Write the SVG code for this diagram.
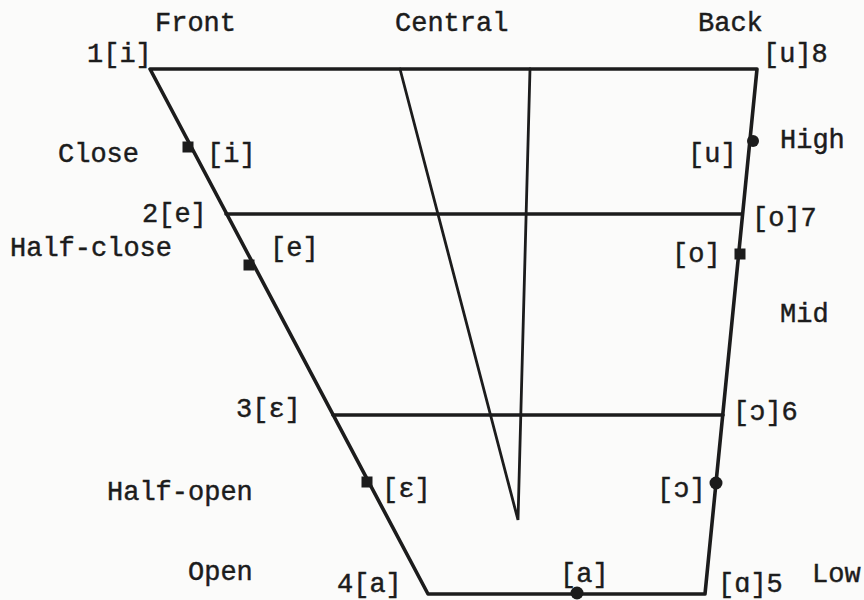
<svg xmlns="http://www.w3.org/2000/svg" width="864" height="600" viewBox="0 0 864 600">
<style>
text{font-family:"Liberation Mono","DejaVu Sans Mono",monospace;font-size:27px;fill:#1c1c1c;stroke:#1c1c1c;stroke-width:0.45}
.ln{stroke:#1c1c1c;stroke-width:3.6;fill:none;stroke-linecap:round;stroke-linejoin:round}
.thin{stroke:#1c1c1c;stroke-width:2.8;fill:none;stroke-linecap:round}
.dot{fill:#1c1c1c}
</style>
<rect width="864" height="600" fill="#fbfbfa"/>
<g id="chart">
<path class="ln" d="M150,69 L757,69 L705,594 L428,594 Z"/>
<line class="ln" x1="226" y1="214" x2="742" y2="214"/>
<line class="ln" x1="333" y1="415" x2="723" y2="415"/>
<polyline class="thin" points="400,69 518,520 530,69"/>
</g>
<g id="dots">
<rect class="dot" x="182.5" y="141.5" width="11" height="11"/>
<rect class="dot" x="243.5" y="259.5" width="11" height="11"/>
<rect class="dot" x="361.5" y="476.5" width="11" height="11"/>
<circle class="dot" cx="753" cy="141" r="6"/>
<rect class="dot" x="734.5" y="248.5" width="11" height="11"/>
<circle class="dot" cx="716" cy="483" r="6.5"/>
<circle class="dot" cx="577" cy="593" r="6.5"/>
</g>
<g id="labels">
<text x="155" y="31">Front</text>
<text x="395" y="31">Central</text>
<text x="698" y="31">Back</text>
<text x="87" y="62">1[i]</text>
<text x="763" y="62">[u]8</text>
<text x="58" y="162">Close</text>
<text x="207" y="162">[i]</text>
<text x="688" y="162">[u]</text>
<text x="780" y="148">High</text>
<text x="142" y="222">2[e]</text>
<text x="752" y="226">[o]7</text>
<text x="10" y="256">Half-close</text>
<text x="270" y="256">[e]</text>
<text x="672" y="262">[o]</text>
<text x="780" y="322">Mid</text>
<text x="236" y="417">3[ε]</text>
<text x="733" y="420">[ɔ]6</text>
<text x="107" y="500">Half-open</text>
<text x="382" y="497">[ε]</text>
<text x="657" y="497">[ɔ]</text>
<text x="188" y="580">Open</text>
<text x="337" y="592">4[a]</text>
<text x="560" y="582">[a]</text>
<text x="718" y="592">[ɑ]5</text>
<text x="812" y="582">Low</text>
</g>
</svg>
